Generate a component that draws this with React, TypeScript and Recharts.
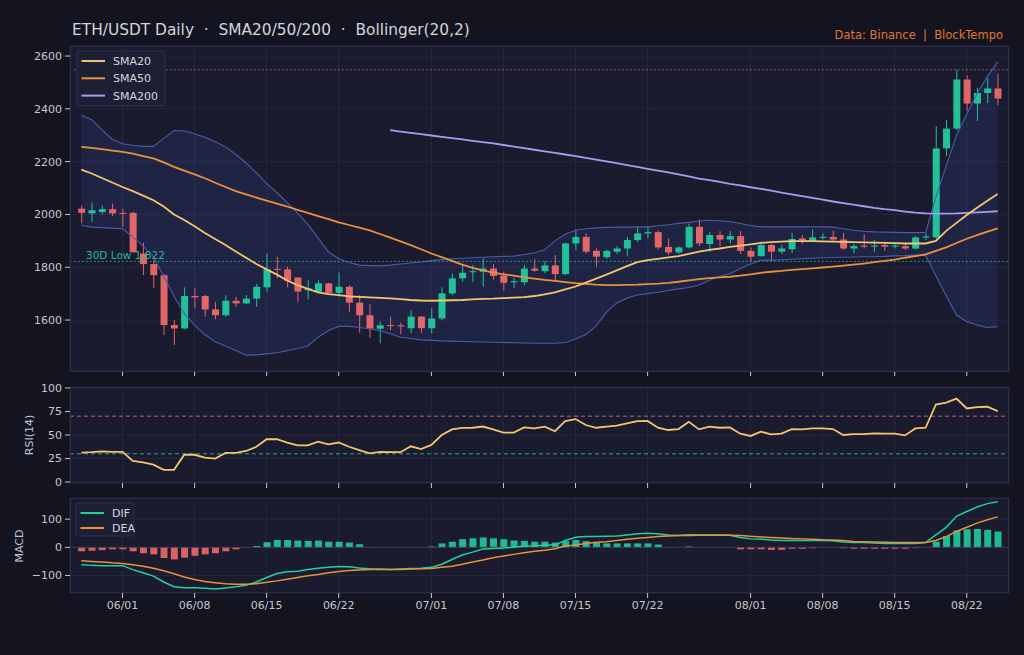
import React from "react"
import {
  Area,
  Bar,
  CartesianGrid,
  Cell,
  ComposedChart,
  Line,
  ReferenceLine,
  XAxis,
  YAxis,
} from "recharts"

const dates = [
  "05/28", "05/29", "05/30", "05/31",
  "06/01", "06/02", "06/03", "06/04", "06/05", "06/06", "06/07", "06/08", "06/09", "06/10",
  "06/11", "06/12", "06/13", "06/14", "06/15", "06/16", "06/17", "06/18", "06/19", "06/20",
  "06/21", "06/22", "06/23", "06/24", "06/25", "06/26", "06/27", "06/28", "06/29", "06/30",
  "07/01", "07/02", "07/03", "07/04", "07/05", "07/06", "07/07", "07/08", "07/09", "07/10",
  "07/11", "07/12", "07/13", "07/14", "07/15", "07/16", "07/17", "07/18", "07/19", "07/20",
  "07/21", "07/22", "07/23", "07/24", "07/25", "07/26", "07/27", "07/28", "07/29", "07/30",
  "07/31", "08/01", "08/02", "08/03", "08/04", "08/05", "08/06", "08/07", "08/08", "08/09",
  "08/10", "08/11", "08/12", "08/13", "08/14", "08/15", "08/16", "08/17", "08/18", "08/19",
  "08/20", "08/21", "08/22", "08/23", "08/24", "08/25",
]
const tickDates = ["06/01", "06/08", "06/15", "06/22", "07/01", "07/08", "07/15", "07/22", "08/01", "08/08", "08/15", "08/22"]

const open = [
  2022, 2004, 2009, 2020, 2006, 2006, 1852, 1812, 1770, 1581,
  1568, 1691, 1691, 1640, 1618, 1673, 1663, 1681, 1724, 1794,
  1792, 1761, 1713, 1707, 1739, 1703, 1726, 1666, 1618, 1567,
  1581, 1580, 1569, 1613, 1569, 1606, 1701, 1758, 1781, 1783,
  1795, 1768, 1743, 1743, 1795, 1785, 1807, 1774, 1890, 1915,
  1862, 1838, 1859, 1871, 1903, 1928, 1933, 1877, 1856, 1875,
  1953, 1888, 1922, 1905, 1918, 1862, 1842, 1884, 1859, 1868,
  1909, 1900, 1911, 1915, 1905, 1871, 1882, 1878, 1884, 1878,
  1880, 1871, 1913, 1913, 2250, 2325, 2511, 2420, 2460, 2477,
]
const high = [
  2033, 2045, 2033, 2041, 2022, 2010, 1893, 1827, 1775, 1600,
  1724, 1720, 1695, 1669, 1695, 1688, 1695, 1736, 1852, 1840,
  1802, 1763, 1751, 1751, 1741, 1780, 1732, 1695, 1661, 1594,
  1613, 1590, 1638, 1615, 1644, 1724, 1777, 1808, 1808, 1833,
  1812, 1783, 1761, 1808, 1830, 1824, 1846, 1893, 1943, 1928,
  1871, 1867, 1880, 1915, 1951, 1953, 1938, 1909, 1880, 1966,
  1981, 1934, 1937, 1937, 1937, 1875, 1897, 1888, 1884, 1930,
  1922, 1943, 1928, 1938, 1930, 1888, 1925, 1903, 1897, 1890,
  1888, 1918, 1928, 2334, 2359, 2548, 2527, 2480, 2518, 2533,
]
const low = [
  1966, 1972, 2001, 1993, 1953, 1855, 1770, 1720, 1543, 1505,
  1565, 1644, 1613, 1603, 1613, 1650, 1660, 1650, 1707, 1758,
  1724, 1669, 1678, 1701, 1701, 1688, 1632, 1552, 1533, 1512,
  1562, 1547, 1550, 1550, 1550, 1600, 1695, 1745, 1745, 1726,
  1754, 1711, 1722, 1732, 1783, 1777, 1749, 1770, 1865, 1852,
  1802, 1833, 1850, 1842, 1896, 1909, 1867, 1846, 1850, 1871,
  1880, 1859, 1880, 1890, 1850, 1822, 1840, 1825, 1850, 1855,
  1888, 1897, 1905, 1897, 1865, 1852, 1871, 1859, 1862, 1871,
  1865, 1867, 1903, 1909, 2221, 2320, 2392, 2354, 2422, 2413,
]
const close = [
  2006, 2016, 2020, 2004, 2003, 1857, 1812, 1770, 1581, 1568,
  1691, 1686, 1640, 1618, 1673, 1663, 1681, 1726, 1792, 1790,
  1749, 1708, 1720, 1739, 1703, 1726, 1666, 1618, 1568, 1580,
  1577, 1576, 1613, 1569, 1606, 1701, 1758, 1779, 1785, 1795,
  1767, 1741, 1747, 1795, 1787, 1807, 1774, 1890, 1915, 1859,
  1840, 1862, 1871, 1903, 1928, 1933, 1875, 1856, 1875, 1953,
  1890, 1922, 1905, 1918, 1862, 1840, 1884, 1859, 1871, 1907,
  1902, 1913, 1915, 1905, 1871, 1880, 1878, 1882, 1878, 1882,
  1871, 1913, 1917, 2250, 2325, 2511, 2420, 2460, 2477, 2439,
]

const sma20 = [
  2170, 2155, 2138, 2121, 2104, 2088, 2071, 2054, 2030, 2000,
  1979, 1955, 1930, 1907, 1884, 1860, 1836, 1812, 1792, 1772,
  1750, 1732, 1718, 1705, 1698, 1694, 1690, 1688, 1686, 1684,
  1682, 1679, 1676, 1674, 1673, 1674, 1675, 1676, 1678, 1680,
  1681, 1683, 1685, 1687, 1691, 1697, 1705, 1716, 1727, 1742,
  1757, 1772, 1788, 1804, 1819, 1827, 1832, 1837, 1842, 1851,
  1859, 1866, 1871, 1877, 1882, 1887, 1892, 1895, 1897, 1899,
  1899, 1899, 1898, 1897, 1896, 1895, 1894, 1893, 1892, 1891,
  1890, 1890, 1890, 1900, 1938, 1968, 1998, 2025, 2052, 2077,
]
const sma50 = [
  2256, 2252, 2247, 2242, 2237, 2230, 2221, 2212, 2197, 2180,
  2166, 2152, 2137, 2120, 2104, 2088, 2076, 2064, 2052, 2041,
  2030, 2017, 2006, 1994, 1982, 1970, 1960, 1950, 1940, 1926,
  1912, 1898, 1884, 1868, 1852, 1838, 1824, 1810, 1798, 1788,
  1780, 1773, 1768, 1762, 1757, 1752, 1748, 1744, 1740, 1737,
  1734, 1732, 1732, 1733, 1734, 1736, 1738, 1741, 1745, 1750,
  1755, 1759, 1762, 1764, 1768, 1773, 1779, 1783, 1786, 1790,
  1793, 1796, 1799, 1802, 1806, 1810, 1814, 1819, 1824, 1829,
  1836, 1842, 1849, 1862, 1875, 1892, 1908, 1922, 1935, 1947,
]
const sma200 = [
  null, null, null, null, null, null, null, null, null, null,
  null, null, null, null, null, null, null, null, null, null,
  null, null, null, null, null, null, null, null, null, null,
  2319, 2314, 2309, 2304, 2299, 2294, 2289, 2284, 2279, 2274,
  2269, 2263, 2257, 2251, 2245, 2239, 2233, 2227, 2221, 2214,
  2208, 2201, 2194, 2187, 2180, 2173, 2166, 2159, 2152, 2144,
  2136, 2130, 2123, 2116, 2110, 2103, 2097, 2090, 2083, 2076,
  2069, 2063, 2056, 2049, 2043, 2037, 2031, 2025, 2020, 2016,
  2011, 2007, 2004, 2003, 2003, 2004, 2006, 2008, 2010, 2012,
]
const bbUpper = [
  2376, 2359, 2320, 2285, 2268, 2262, 2258, 2258, 2287, 2318,
  2316, 2306, 2292, 2275, 2256, 2228, 2195, 2158, 2117, 2083,
  2045, 2005, 1962, 1910, 1858, 1832, 1818, 1808, 1806, 1806,
  1808, 1812, 1816, 1820, 1825, 1829, 1832, 1834, 1836, 1838,
  1840, 1841, 1842, 1848, 1855, 1866, 1900, 1925, 1940, 1946,
  1949, 1951, 1952, 1952, 1953, 1953, 1957, 1961, 1966, 1970,
  1975, 1978, 1976, 1973, 1966, 1958, 1953, 1953, 1953, 1953,
  1953, 1953, 1953, 1952, 1946, 1940, 1936, 1934, 1933, 1932,
  1931, 1931, 1932, 2065, 2185, 2300, 2380, 2458, 2523, 2578,
]
const bbLower = [
  1959, 1952, 1950, 1948, 1946, 1915, 1880, 1840, 1765, 1690,
  1625, 1580, 1545, 1518, 1502, 1485, 1467, 1468, 1472, 1476,
  1484, 1492, 1502, 1535, 1560, 1576, 1576, 1572, 1567, 1560,
  1548, 1535, 1530, 1525, 1523, 1521, 1520, 1519, 1518, 1517,
  1516, 1515, 1514, 1513, 1512, 1512, 1512, 1515, 1528, 1545,
  1578, 1630, 1665, 1683, 1695, 1700, 1705, 1712, 1718, 1723,
  1733, 1751, 1765, 1775, 1795, 1812, 1827, 1827, 1828, 1830,
  1832, 1834, 1836, 1837, 1838, 1839, 1840, 1840, 1841, 1843,
  1844, 1846, 1845, 1768, 1692, 1619, 1594, 1581, 1572, 1575,
]

const rsi = [
  31.3, 31.7, 32.5, 32, 32, 22.5, 21, 18.5, 13, 13,
  29, 29, 26, 25, 31, 31, 33, 37.5, 45.5, 45.5,
  42, 39, 39, 43, 40, 42, 37.5, 34, 30.5, 32,
  31.7, 31.7, 38, 35, 39.5, 50, 56, 57.5, 57.7, 59,
  56, 52.5, 52.5, 58, 57, 58.8, 54, 64.8, 66.9, 60.6,
  57.7, 59, 59.9, 62.3, 64.8, 65, 57.7, 55.3, 56.3, 64,
  56, 58.8, 57.7, 58, 51.4, 49, 53.5, 50.7, 51.4, 56.3,
  56, 57, 57, 56.3, 50, 51, 51, 51.8, 51.4, 51.4,
  49.6, 57, 57.7, 82.4, 84.5, 88.7, 78.2, 79.6, 80, 75.4,
]
const dif = [
  -62, -64, -65, -65, -65, -79, -90, -102, -123, -140,
  -143, -143, -145, -148, -144, -140, -135, -123, -107, -93,
  -87, -85, -79, -74, -71, -68, -69, -73, -76, -77,
  -79, -77, -75, -74, -71, -60, -43, -27, -17, -6,
  -4, -2, 0, 5, 5, 8, 8, 24, 36, 38,
  38, 39, 40, 44, 48, 50, 48, 44, 42, 45,
  44, 44, 44, 43, 35, 30, 29, 26, 24, 24,
  24, 24, 24, 23, 19, 17, 17, 15, 14, 14,
  14, 14, 17, 44, 71, 110, 127, 143, 155, 162,
]
const dea = [
  -48, -50, -52, -55, -57, -62, -67, -74, -83, -94,
  -105, -114, -121, -126, -129, -131, -131, -129, -124, -119,
  -113, -107, -101, -96, -90, -86, -82, -80, -79, -79,
  -79, -79, -77, -76, -75, -71, -67, -60, -52, -45,
  -37, -31, -25, -19, -14, -10, -5, 5, 8, 14,
  18, 20, 24, 29, 32, 35, 38, 40, 42, 42,
  43, 43, 43, 43, 42, 39, 37, 35, 33, 31,
  30, 29, 27, 26, 24, 21, 20, 19, 18, 17,
  17, 17, 17, 24, 38, 56, 71, 86, 98, 108,
]
const hist = [
  -14, -12, -10, -7, -7, -14, -21, -25, -38, -43,
  -37, -30, -25, -21, -14, -7, -1, 5, 18, 26,
  26, 24, 23, 24, 20, 20, 17, 11, 1, 0,
  0, 0, 0, 0, 3, 14, 20, 29, 32, 35,
  32, 29, 24, 23, 20, 20, 17, 22, 26, 22,
  17, 14, 14, 14, 14, 14, 10, 1, 0, 3,
  0, 0, 0, 0, -7, -7, -7, -9, -9, -5,
  -5, -3, 0, 0, -3, -5, -5, -5, -5, -5,
  -5, -3, 0, 20, 40, 60, 64, 65, 62, 56,
]

const high30 = 2548
const low30 = 1822

const GREEN = "#22cfa0"
const RED = "#f26b6b"
const C_SMA20 = "#f3c66c"
const C_SMA50 = "#ea913c"
const C_SMA200 = "#a99cf0"
const C_BB = "#4a5ca8"
const PLOT_BG = "#1a1b2e"
const GRID = "#282a42"
const TICK = "#c6c7d1"
const FONT = "DejaVu Sans, Verdana, sans-serif"

const data = dates.map((d, i) => ({
  i,
  d,
  open: open[i],
  high: high[i],
  low: low[i],
  close: close[i],
  range: [low[i], high[i]],
  sma20: sma20[i],
  sma50: sma50[i],
  sma200: sma200[i],
  band: [bbLower[i], bbUpper[i]],
  bbUpper: bbUpper[i],
  bbLower: bbLower[i],
  rsi: rsi[i],
  dif: dif[i],
  dea: dea[i],
  hist: hist[i],
}))

const tickIdx = tickDates.map((t) => dates.indexOf(t))
const X_DOMAIN = [-1.1, 90.1]

const mainLegend = [
  { name: "SMA20", color: C_SMA20 },
  { name: "SMA50", color: C_SMA50 },
  { name: "SMA200", color: C_SMA200 },
]
const macdLegend = [
  { name: "DIF", color: GREEN },
  { name: "DEA", color: C_SMA50 },
]

const tickStyle = { fontSize: 11, fill: TICK, fontFamily: FONT }

function Candle(props: any) {
  const { x, y, width, height, payload } = props
  if (x == null || !payload) return null
  const top = Math.min(y, y + height)
  const bottom = Math.max(y, y + height)
  const span = payload.high - payload.low
  const k = span > 0 ? (bottom - top) / span : 0
  const yO = top + (payload.high - payload.open) * k
  const yC = top + (payload.high - payload.close) * k
  const color = payload.close >= payload.open ? GREEN : RED
  const cx = x + width / 2
  const bw = 7
  return (
    <g opacity={0.93}>
      <line x1={cx} x2={cx} y1={top} y2={bottom} stroke={color} strokeWidth={1} />
      <rect
        x={cx - bw / 2}
        y={Math.min(yO, yC)}
        width={bw}
        height={Math.max(Math.abs(yO - yC), 1)}
        fill={color}
      />
    </g>
  )
}

function lineLabel(text: string, color: string) {
  return (props: any) => {
    const vb = props.viewBox
    if (!vb) return null
    return (
      <text x={vb.x + 16} y={vb.y - 2} fill={color} fontSize={10.5} fontFamily={FONT}>
        {text}
      </text>
    )
  }
}

function Border({ top, height }: { top: number; height: number }) {
  return (
    <div
      style={{
        position: "absolute",
        left: 70,
        top,
        width: 939,
        height,
        boxSizing: "border-box",
        border: "1px solid #2b2e48",
        pointerEvents: "none",
      }}
    />
  )
}

function Legend({ x, y, w, h, rows, step }: any) {
  return (
    <g>
      <rect x={x} y={y} width={w} height={h} rx={2} fill="#1d1f34" stroke="#35384f" strokeWidth={0.8} />
      {rows.map((r: any, k: number) => {
        const cy = y + 10 + k * step
        return (
          <g key={r.name}>
            <line x1={x + 4.5} x2={x + 28} y1={cy} y2={cy} stroke={r.color} strokeWidth={2} />
            <text x={x + 36} y={cy + 4} fontSize={11} fill="#d6d7df" fontFamily={FONT}>
              {r.name}
            </text>
          </g>
        )
      })}
    </g>
  )
}

export default function App() {
  return (
    <div style={{ position: "relative", width: 1024, height: 655, background: "#131420", overflow: "hidden", fontFamily: FONT }}>
      <style>{"body{margin:0;background:#131420}"}</style>

      {/* price panel */}
      <div style={{ position: "absolute", left: 0, top: 0 }}>
        <ComposedChart width={1024} height={380} data={data} margin={{ top: 46, right: 15, bottom: 0, left: 0 }}>
          <CartesianGrid fill={PLOT_BG} stroke={GRID} strokeWidth={0.8} />
          <XAxis
            type="number"
            dataKey="i"
            domain={X_DOMAIN}
            allowDataOverflow
            ticks={tickIdx}
            tickFormatter={() => ""}
            height={9}
            axisLine={false}
            tickSize={5}
            tickLine={{ stroke: TICK }}
          />
          <YAxis
            type="number"
            domain={[1407, 2638]}
            allowDataOverflow
            ticks={[1600, 1800, 2000, 2200, 2400, 2600]}
            width={70}
            axisLine={false}
            tickSize={5}
            tickMargin={3}
            tickLine={{ stroke: TICK }}
            tick={tickStyle}
          />
          <Area
            dataKey="band"
            stroke="none"
            fill="#3d4ca2"
            fillOpacity={0.2}
            isAnimationActive={false}
          />
          <Line dataKey="bbUpper" stroke={C_BB} strokeWidth={1.1} dot={false} isAnimationActive={false} />
          <Line dataKey="bbLower" stroke={C_BB} strokeWidth={1.1} dot={false} isAnimationActive={false} />
          <ReferenceLine y={high30} stroke="#c4586a" strokeDasharray="1.5 2.5" strokeWidth={1} />
          <ReferenceLine y={low30} stroke="#24b39c" strokeDasharray="1.5 2.5" strokeWidth={1} label={lineLabel("30D Low 1,822", "#24b39c")} />
          <Line dataKey="sma200" stroke={C_SMA200} strokeWidth={1.8} dot={false} isAnimationActive={false} />
          <Line dataKey="sma50" stroke={C_SMA50} strokeWidth={1.8} dot={false} isAnimationActive={false} />
          <Line dataKey="sma20" stroke={C_SMA20} strokeWidth={1.8} dot={false} isAnimationActive={false} />
          <Bar dataKey="range" barSize={7} shape={<Candle />} isAnimationActive={false} />
        </ComposedChart>
      </div>

      {/* RSI panel */}
      <div style={{ position: "absolute", left: 0, top: 380 }}>
        <ComposedChart width={1024} height={112} data={data} margin={{ top: 7, right: 15, bottom: 0, left: 0 }}>
          <CartesianGrid fill={PLOT_BG} stroke={GRID} strokeWidth={0.8} />
          <XAxis
            type="number"
            dataKey="i"
            domain={X_DOMAIN}
            allowDataOverflow
            ticks={tickIdx}
            tickFormatter={() => ""}
            height={9}
            axisLine={false}
            tickSize={5}
            tickLine={{ stroke: TICK }}
          />
          <YAxis
            type="number"
            domain={[-1, 101]}
            allowDataOverflow
            ticks={[0, 25, 50, 75, 100]}
            width={70}
            axisLine={false}
            tickSize={5}
            tickMargin={3}
            tickLine={{ stroke: TICK }}
            tick={tickStyle}
          />
          <ReferenceLine y={70} stroke="#c2607c" strokeDasharray="4 3" strokeWidth={1} />
          <ReferenceLine y={30} stroke="#25a898" strokeDasharray="4 3" strokeWidth={1} />
          <Line dataKey="rsi" stroke={C_SMA20} strokeWidth={1.8} dot={false} isAnimationActive={false} />
        </ComposedChart>
      </div>

      {/* MACD panel */}
      <div style={{ position: "absolute", left: 0, top: 490 }}>
        <ComposedChart width={1024} height={165} data={data} margin={{ top: 8, right: 15, bottom: 0, left: 0 }}>
          <CartesianGrid fill={PLOT_BG} stroke={GRID} strokeWidth={0.8} />
          <XAxis
            type="number"
            dataKey="i"
            domain={X_DOMAIN}
            allowDataOverflow
            ticks={tickIdx}
            tickFormatter={(v: number) => dates[v]}
            height={62}
            axisLine={false}
            tickSize={5}
            tickMargin={3}
            tickLine={{ stroke: TICK }}
            tick={tickStyle}
          />
          <YAxis
            type="number"
            domain={[-162, 175]}
            allowDataOverflow
            ticks={[-100, 0, 100]}
            tickFormatter={(v: number) => String(v).replace("-", "\u2212")}
            width={70}
            axisLine={false}
            tickSize={5}
            tickMargin={3}
            tickLine={{ stroke: TICK }}
            tick={tickStyle}
          />
          <ReferenceLine y={0} stroke="#3a3d56" strokeWidth={0.8} />
          <Bar dataKey="hist" barSize={7} isAnimationActive={false}>
            {data.map((p) => (
              <Cell key={p.i} fill={p.hist >= 0 ? GREEN : RED} fillOpacity={0.88} />
            ))}
          </Bar>
          <Line dataKey="dif" stroke={GREEN} strokeWidth={1.5} dot={false} isAnimationActive={false} />
          <Line dataKey="dea" stroke={C_SMA50} strokeWidth={1.5} dot={false} isAnimationActive={false} />
        </ComposedChart>
      </div>

      <Border top={46} height={326} />
      <Border top={387} height={96} />
      <Border top={498} height={95} />

      <svg width={1024} height={655} style={{ position: "absolute", left: 0, top: 0, pointerEvents: "none" }}>
        <text x={72} y={35} fontSize={15.4} fill="#d3d4dd" fontFamily={FONT} style={{ whiteSpace: "pre" }}>
          {"ETH/USDT Daily  \u00b7  SMA20/50/200  \u00b7  Bollinger(20,2)"}
        </text>
        <text x={1003} y={39} fontSize={11.5} fill="#e0772c" fontFamily={FONT} textAnchor="end" style={{ whiteSpace: "pre" }}>
          {"Data: Binance  |  BlockTempo"}
        </text>
        <text x={33} y={435} fontSize={11} fill={TICK} fontFamily={FONT} textAnchor="middle" transform="rotate(-90 33 435)">
          RSI(14)
        </text>
        <text x={23} y={546} fontSize={11} fill={TICK} fontFamily={FONT} textAnchor="middle" transform="rotate(-90 23 546)">
          MACD
        </text>
        <Legend x={77} y={51} w={88} h={55} rows={mainLegend} step={17.3} />
        <Legend x={76} y={503} w={58} h={33} rows={macdLegend} step={15} />
      </svg>
    </div>
  )
}
